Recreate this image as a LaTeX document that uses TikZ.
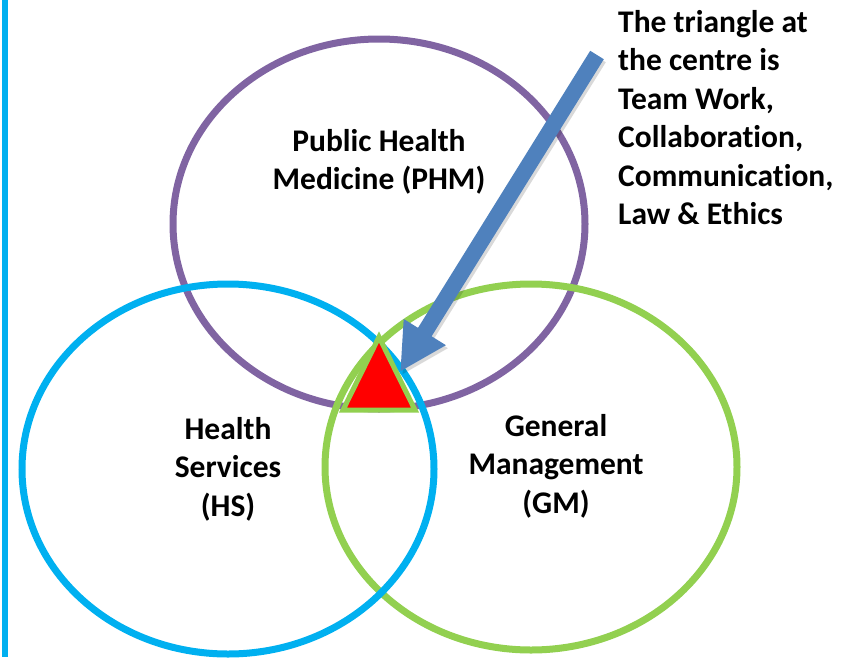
\documentclass[tikz,border=0pt]{standalone}
\usepackage{fontspec}
\setmainfont{Carlito}[RawFeature=-liga]
\usetikzlibrary{arrows.meta}

\definecolor{phmpurple}{HTML}{8064A2}
\definecolor{hsblue}{HTML}{00B0F0}
\definecolor{gmgreen}{HTML}{92D050}
\definecolor{arrowblue}{HTML}{4F81BD}

\begin{document}
\begin{tikzpicture}[x=1pt,y=-1pt,
	label/.style={font=\fontsize{31.5}{38.5}\selectfont\bfseries,align=center,inner sep=0pt},
	ring/.style={line width=7pt}]

	\def\rx{206}
	\def\ry{185}

	\useasboundingbox (0,0) rectangle (846,657);

	% bar on the left
	\draw[hsblue,line width=6pt] (4.5,0) -- (4.5,657);

	\coordinate (phm) at (379,224);
	\coordinate (hs) at (228,469);
	\coordinate (gm) at (531,467);

	\draw[ring,phmpurple] (phm) ellipse [x radius=\rx, y radius=\ry];
	\draw[ring,gmgreen] (gm) ellipse [x radius=\rx, y radius=183];
	\draw[ring,hsblue] (hs) ellipse [x radius=\rx, y radius=\ry];

	\node[label] (phmtext) at (379,162) {Public Health\\Medicine (PHM)};
	\node[label] (hstext) at (228,469) {Health\\Services\\(HS)};
	\node[label] (gmtext) at (556,466) {General\\Management\\(GM)};

	% the triangle in the middle
	\coordinate (apex) at (379,337);
	\coordinate (bl) at (343,410);
	\coordinate (br) at (415,410);
	\filldraw[fill=red,draw=gmgreen,line width=5pt] (apex) -- (bl) -- (br) -- cycle;

	% arrow pointing at it
	\coordinate (tail) at (597,55);
	\coordinate (tip) at (400,372);
	\draw[black,opacity=0.15,line width=16pt,-{Triangle[width=46pt,length=47pt]}]
		([shift={(2,3)}]tail) -- ([shift={(2,3)}]tip);
	\draw[arrowblue,line width=16pt,-{Triangle[width=46pt,length=47pt]}] (tail) -- (tip);

	\node[label,align=left,anchor=north west] (note) at (618,10)
		{The triangle at\\the centre is\\Team Work,\\Collaboration,\\Communication,\\Law \& Ethics};
\end{tikzpicture}
\end{document}
